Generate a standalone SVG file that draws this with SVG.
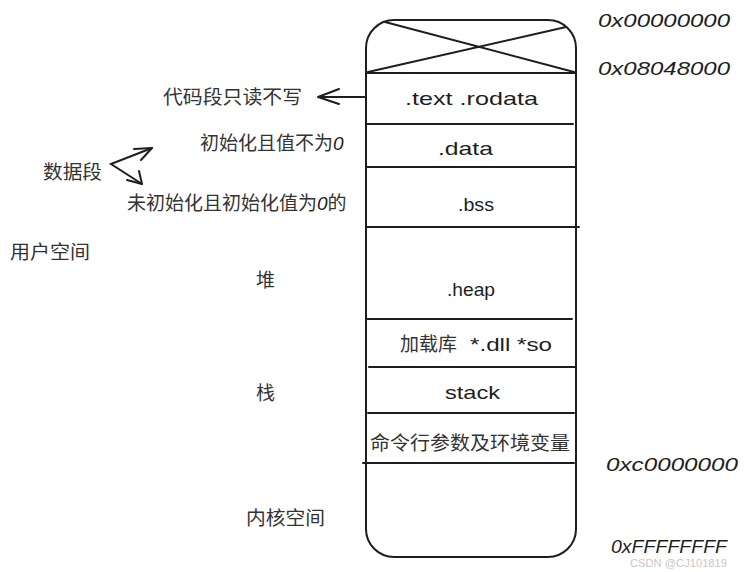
<svg xmlns="http://www.w3.org/2000/svg" width="749" height="572" viewBox="0 0 749 572">
<style>
.box{fill:none;stroke:#1e1e1e;stroke-width:2;stroke-linecap:round}
.ln{stroke:#1e1e1e;stroke-width:2;stroke-linecap:round;fill:none}
.hw{font-family:"Liberation Sans","DejaVu Sans",sans-serif;font-size:19px;fill:#1e1e1e}
.cn{font-family:"Noto Sans CJK SC","Liberation Sans",sans-serif;font-size:19px;fill:#333}
.addr{font-family:"Liberation Sans","DejaVu Sans",sans-serif;font-size:19px;fill:#1e1e1e;font-style:italic}
.wm{font-family:"Liberation Sans",sans-serif;font-size:11px;fill:#c8c8c8}
</style>
<rect width="749" height="572" fill="#fff"/>
<g id="memory">
  <rect class="box" x="366" y="20" width="210" height="537" rx="28" ry="28"/>
  <path class="ln" d="M385 22 L574 72 M368 72 L566 27"/>
  <line class="ln" x1="366" y1="73" x2="576" y2="73"/>
  <line class="ln" x1="367" y1="124" x2="573" y2="124"/>
  <line class="ln" x1="367" y1="167" x2="575" y2="167"/>
  <line class="ln" x1="367" y1="227" x2="579" y2="227"/>
  <line class="ln" x1="367" y1="319" x2="572" y2="319"/>
  <line class="ln" x1="369" y1="367" x2="575" y2="367"/>
  <line class="ln" x1="368" y1="413" x2="574" y2="413"/>
  <line class="ln" x1="363" y1="463" x2="574" y2="463"/>
</g>
<g id="seg-text"><text class="hw" x="405" y="105" textLength="133" lengthAdjust="spacingAndGlyphs">.text .rodata</text></g>
<g id="seg-data"><text class="hw" x="438" y="155" textLength="55" lengthAdjust="spacingAndGlyphs">.data</text></g>
<g id="seg-bss"><text class="hw" x="458" y="211" textLength="36" lengthAdjust="spacingAndGlyphs">.bss</text></g>
<g id="seg-heap"><text class="hw" x="447" y="296" textLength="48" lengthAdjust="spacingAndGlyphs">.heap</text></g>
<g id="seg-lib"><text class="cn" x="400" y="351">加载库<tspan class="hw" x="470" textLength="82" lengthAdjust="spacingAndGlyphs">*.dll *so</tspan></text></g>
<g id="seg-stack"><text class="hw" x="445" y="399" textLength="55" lengthAdjust="spacingAndGlyphs">stack</text></g>
<g id="seg-env"><text class="cn" x="370" y="450" textLength="200" lengthAdjust="spacingAndGlyphs">命令行参数及环境变量</text></g>
<g id="connectors">
  <path class="ln" d="M366 97 L318 97 M318 97 L339 89 M318 97 L339 104"/>
  <path class="ln" d="M152 148 L111 164 L142 184"/>
  <path class="ln" d="M152 148 L134 149 M152 148 L141 160"/>
  <path class="ln" d="M142 184 L139 171 M142 184 L127 180"/>
</g>
<g id="labels">
  <text class="cn" x="163" y="104" textLength="139" lengthAdjust="spacingAndGlyphs">代码段只读不写</text>
  <text class="cn" x="200" y="150">初始化且值不为<tspan class="addr">0</tspan></text>
  <text class="cn" x="43" y="179" textLength="59" lengthAdjust="spacingAndGlyphs">数据段</text>
  <text class="cn" x="127" y="210">未初始化且初始化值为<tspan class="addr">0</tspan>的</text>
  <text class="cn" x="10" y="259" textLength="80" lengthAdjust="spacingAndGlyphs">用户空间</text>
  <text class="cn" x="256" y="287">堆</text>
  <text class="cn" x="256" y="400">栈</text>
  <text class="cn" x="246" y="525" textLength="79" lengthAdjust="spacingAndGlyphs">内核空间</text>
</g>
<g id="addresses">
  <text class="addr" x="598" y="27" textLength="132" lengthAdjust="spacingAndGlyphs">0x00000000</text>
  <text class="addr" x="598" y="75" textLength="132" lengthAdjust="spacingAndGlyphs">0x08048000</text>
  <text class="addr" x="606" y="471" textLength="132" lengthAdjust="spacingAndGlyphs">0xc0000000</text>
  <text class="addr" x="611" y="553" textLength="116" lengthAdjust="spacingAndGlyphs">0xFFFFFFFF</text>
  <text class="wm" x="630" y="567" textLength="97" lengthAdjust="spacingAndGlyphs">CSDN @CJ101819</text>
</g>
</svg>
